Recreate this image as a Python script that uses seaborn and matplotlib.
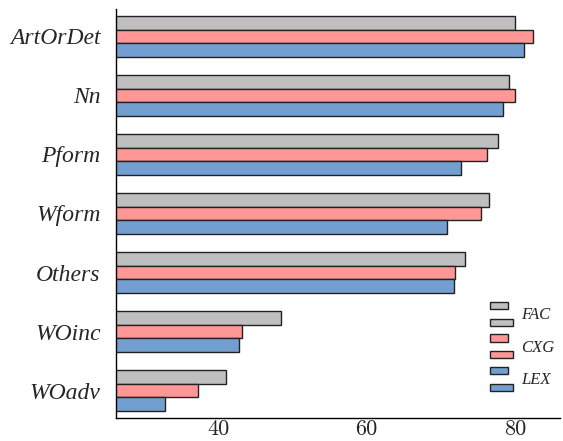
import matplotlib
matplotlib.use("Agg")
import matplotlib.pyplot as plt
import seaborn as sns
import pandas as pd
from matplotlib.legend_handler import HandlerBase
from matplotlib.patches import Rectangle, Patch

categories = ["ArtOrDet", "Nn", "Pform", "Wform", "Others", "WOinc", "WOadv"]
models = ["FAC", "CXG", "LEX"]
fac = [80.0, 79.2, 77.8, 76.5, 73.3, 48.5, 41.1]
cxg = [82.4, 80.0, 76.2, 75.5, 71.9, 43.2, 37.3]
lex = [81.2, 78.4, 72.7, 70.8, 71.8, 42.8, 32.8]
xticks = [40, 60, 80]
colors = ["#bfbfbf", "#ff9797", "#729fcf"]

rows = []
for m, vals in zip(models, [fac, cxg, lex]):
    for c, v in zip(categories, vals):
        rows.append({"cat": c, "model": m, "value": v})
df = pd.DataFrame(rows)

sns.set_style("white")
plt.rcParams["font.family"] = ["Liberation Serif", "DejaVu Serif"]

fig = plt.figure(figsize=(5.63, 4.41), dpi=100)
ax = fig.add_axes([116 / 563, 1 - 418 / 441, (560 - 116) / 563, (418 - 9) / 441])

sns.barplot(data=df, y="cat", x="value", hue="model", order=categories,
            hue_order=models, palette=colors, saturation=1, orient="h",
            width=0.68, edgecolor="#222222", linewidth=1.0, ax=ax, legend=False)

ax.set_xlim(26.2, 86.1)
ax.set_ylim(6.466, -0.466)
ax.set_xticks(xticks)
ax.set_xticklabels([str(v) for v in xticks], fontfamily="cmr10", fontsize=16)
ax.set_xlabel("")
ax.set_ylabel("")
for s in ["top", "right"]:
    ax.spines[s].set_visible(False)
for s in ["left", "bottom"]:
    ax.spines[s].set_color("black")
    ax.spines[s].set_linewidth(1.0)
ax.tick_params(axis="x", length=0, pad=1)
ax.tick_params(axis="y", length=8, width=1, color="#999999", labelsize=17, pad=3)
for t in ax.get_yticklabels():
    t.set_fontstyle("italic")


class TwoBarHandler(HandlerBase):
    def create_artists(self, legend, orig_handle, xdescent, ydescent,
                       width, height, fontsize, trans):
        fc = orig_handle.get_facecolor()
        frac = 7.2 / 24
        r1 = Rectangle((-xdescent, -ydescent + height * (1 - frac)), width * 0.78,
                       height * frac, facecolor=fc, edgecolor="#222222",
                       linewidth=1.0, transform=trans)
        r2 = Rectangle((-xdescent, -ydescent), width, height * frac,
                       facecolor=fc, edgecolor="#222222", linewidth=1.0,
                       transform=trans)
        return [r1, r2]


handles = [Patch(facecolor=c) for c in colors]
leg = fig.legend(handles, models, loc="upper left",
                 bbox_to_anchor=(490 / 563, 1 - 302 / 441),
                 bbox_transform=fig.transFigure, frameon=False,
                 handler_map={Patch: TwoBarHandler()},
                 prop={"size": 12, "style": "italic"},
                 handlelength=1.4, handleheight=1.84, labelspacing=0.5,
                 handletextpad=0.45, borderpad=0, borderaxespad=0)

fig.savefig("out.png", dpi=100)
